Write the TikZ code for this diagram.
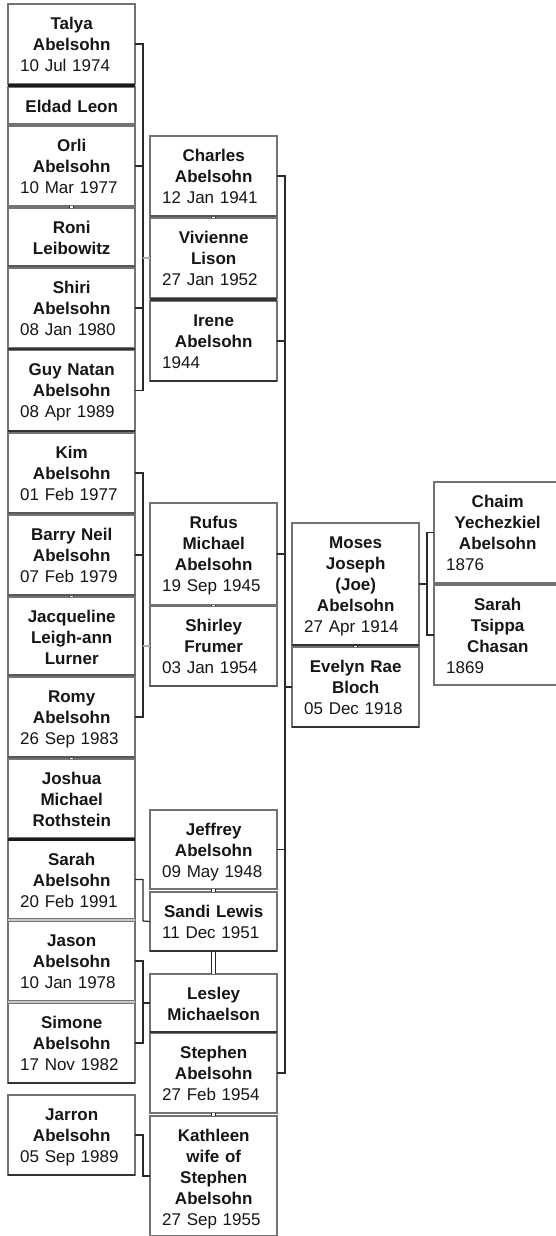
\documentclass[tikz,border=0pt]{standalone}
\usepackage{fontspec}
\setmainfont{Liberation Sans}
\usetikzlibrary{calc}

\definecolor{boxline}{HTML}{737373}
\definecolor{ink}{HTML}{161616}
\definecolor{wire}{HTML}{2A2A2A}
\definecolor{wirelight}{HTML}{B0B0B0}
\definecolor{edgedark}{HTML}{333333}
\definecolor{edgemid}{HTML}{575757}
\definecolor{edgelight}{HTML}{C8C8C8}

\newcommand\pfont{\fontsize{17}{21}\selectfont}
% a bold name line and a left-set date line
\newcommand\N[1]{\strut\textbf{#1}}
\newcommand\D[1]{\hbox to 103pt{\strut#1\hfil}}

% \person{id}{left x}{top y}{bottom y}{lines}
\newcommand\person[5]{%
  \node[pbox, minimum height={#4-#3}] (#1) at ({#2+63.5},{(#3+#4)/2}) {};
  \node[ptext] (#1-txt) at ({#2+12},{#3+10.3}) {#5};
}
% heavy rule between two stacked boxes
\newcommand\sepline[3]{%
  \draw[#1] ($(#2.south west)!.5!(#3.north west)$) -- ($(#2.south east)!.5!(#3.north east)$);
}
% rule along the lower edge of one box
\newcommand\lowedge[2]{\draw[#1] (#2.south west) -- (#2.south east);}

\begin{document}
\begin{tikzpicture}[x=1pt,y=-1pt,
  pbox/.style={draw=boxline, line width=1.1pt, fill=white, minimum width=127pt,
               inner sep=0pt, outer sep=0pt},
  ptext/.style={anchor=north west, inner sep=0pt, text width=103pt, align=center,
                font=\pfont, text=ink},
  wireline/.style={draw=wire, line width=1.2pt},
  wirefaint/.style={draw=wirelight, line width=1.1pt},
  marriage/.style={draw=black!85, line width=1pt, double=white, double distance=2.3pt},
  sepblack/.style={draw=black!90, line width=3pt},
  sepdark/.style={draw=edgedark, line width=2.6pt},
  edgeD/.style={draw=edgedark, line width=1.6pt},
  edgeM/.style={draw=edgemid, line width=1.4pt},
  edgeL/.style={draw=edgelight, line width=2pt}]

\useasboundingbox (0,0) rectangle (555,1236);

% ---- grandchildren
\person{talya}{8}{4}{84}{\N{Talya}\\\N{Abelsohn}\\\D{10 Jul 1974}}
\person{eldad}{8}{87}{124}{\N{Eldad Leon}}
\person{orli}{8}{126}{206}{\N{Orli}\\\N{Abelsohn}\\\D{10 Mar 1977}}
\person{roni}{8}{208}{266}{\N{Roni}\\\N{Leibowitz}}
\person{shiri}{8}{268}{348}{\N{Shiri}\\\N{Abelsohn}\\\D{08 Jan 1980}}
\person{guy}{8}{350}{431}{\N{Guy Natan}\\\N{Abelsohn}\\\D{08 Apr 1989}}
\person{kim}{8}{433}{513}{\N{Kim}\\\N{Abelsohn}\\\D{01 Feb 1977}}
\person{barry}{8}{515}{595}{\N{Barry Neil}\\\N{Abelsohn}\\\D{07 Feb 1979}}
\person{jacq}{8}{597}{675}{\N{Jacqueline}\\\N{Leigh-ann}\\\N{Lurner}}
\person{romy}{8}{677}{757}{\N{Romy}\\\N{Abelsohn}\\\D{26 Sep 1983}}
\person{joshua}{8}{759}{838}{\N{Joshua}\\\N{Michael}\\\N{Rothstein}}
\person{sarah}{8}{840}{919}{\N{Sarah}\\\N{Abelsohn}\\\D{20 Feb 1991}}
\person{jason}{8}{921}{1001}{\N{Jason}\\\N{Abelsohn}\\\D{10 Jan 1978}}
\person{simone}{8}{1003}{1083}{\N{Simone}\\\N{Abelsohn}\\\D{17 Nov 1982}}
\person{jarron}{8}{1095}{1175}{\N{Jarron}\\\N{Abelsohn}\\\D{05 Sep 1989}}

% ---- children and their spouses
\person{charles}{150}{136}{216}{\N{Charles}\\\N{Abelsohn}\\\D{12 Jan 1941}}
\person{vivienne}{150}{218}{298}{\N{Vivienne}\\\N{Lison}\\\D{27 Jan 1952}}
\person{irene}{150}{301}{381}{\N{Irene}\\\N{Abelsohn}\\\D{1944}}
\person{rufus}{150}{503}{605}{\N{Rufus}\\\N{Michael}\\\N{Abelsohn}\\\D{19 Sep 1945}}
\person{shirley}{150}{606}{686}{\N{Shirley}\\\N{Frumer}\\\D{03 Jan 1954}}
\person{jeffrey}{150}{810}{889}{\N{Jeffrey}\\\N{Abelsohn}\\\D{09 May 1948}}
\person{sandi}{150}{892}{951}{\N{Sandi Lewis}\\\D{11 Dec 1951}}
\person{lesley}{150}{974}{1032}{\N{Lesley}\\\N{Michaelson}}
\person{stephen}{150}{1033}{1113}{\N{Stephen}\\\N{Abelsohn}\\\D{27 Feb 1954}}
\person{kathleen}{150}{1116}{1236}{\N{Kathleen}\\\N{wife of}\\\N{Stephen}\\\N{Abelsohn}\\\D{27 Sep 1955}}

% ---- the couple
\person{moses}{292}{523}{645}{\N{Moses}\\\N{Joseph}\\\N{(Joe)}\\\N{Abelsohn}\\\D{27 Apr 1914}}
\person{evelyn}{292}{647}{727}{\N{Evelyn Rae}\\\N{Bloch}\\\D{05 Dec 1918}}

% ---- parents of Moses
\person{chaim}{434}{482}{583}{\N{Chaim}\\\N{Yechezkiel}\\\N{Abelsohn}\\\D{1876}}
\person{sarahc}{434}{585}{685}{\N{Sarah}\\\N{Tsippa}\\\N{Chasan}\\\D{1869}}

% ---- marriage links
\foreach \h/\w in {talya/eldad,orli/roni,barry/jacq,romy/joshua,charles/vivienne,
                   rufus/shirley,jeffrey/sandi,stephen/kathleen,moses/evelyn,sandi/lesley}{
  \draw[marriage] (\h.south) -- (\w.north);
}

% ---- heavier box edges
\sepline{sepblack}{talya}{eldad}
\sepline{sepdark}{shiri}{guy}
\sepline{sepblack}{joshua}{sarah}
\sepline{sepdark}{vivienne}{irene}
\sepline{edgeL}{sarah}{jason}
\sepline{edgeL}{jason}{simone}
\foreach \b in {guy,simone,jarron,irene,sandi,lesley,moses,evelyn}{\lowedge{edgeD}{\b}}
\foreach \b in {roni,kim,barry,jacq,romy,charles,shirley}{\lowedge{edgeM}{\b}}

% ---- junction points of the family brackets
\coordinate (b1) at (143,258);
\coordinate (b2) at (143,646);
\coordinate (b3) at (143,921);
\coordinate (b4) at (143,1003);
\coordinate (b5) at (143,1176);
\coordinate (b6) at (285,687);
\coordinate (b7) at (427,584);

% Charles and Vivienne's children
\foreach \c in {talya,orli,shiri,guy}{\draw[wireline] (\c.east) -| (b1);}
\draw[wirefaint] (b1) -- (vivienne.west);
% Rufus and Shirley's children
\foreach \c in {kim,barry,romy}{\draw[wireline] (\c.east) -| (b2);}
\draw[wirefaint] (b2) -- (shirley.west);
% Jeffrey and Sandi's child
\draw[wireline] (sarah.east) -| (b3) -- (sandi.west);
% Stephen and Lesley's children
\foreach \c in {jason,simone}{\draw[wireline] (\c.east) -| (b4);}
\draw[wireline] (b4) -- (lesley.west);
% Stephen and Kathleen's child
\draw[wireline] (jarron.east) -| (b5) -- (kathleen.west);
% Moses and Evelyn's children
\foreach \c in {charles,irene,rufus,jeffrey,stephen}{\draw[wireline] (\c.east) -| (b6);}
\draw[wireline] (b6) -- (evelyn.west);
% Moses to his parents
\draw[wireline] (moses.east) -- (b7);
\draw[wireline] (chaim.west) -| (b7);
\draw[wireline] (sarahc.west) -| (b7);
\end{tikzpicture}
\end{document}
